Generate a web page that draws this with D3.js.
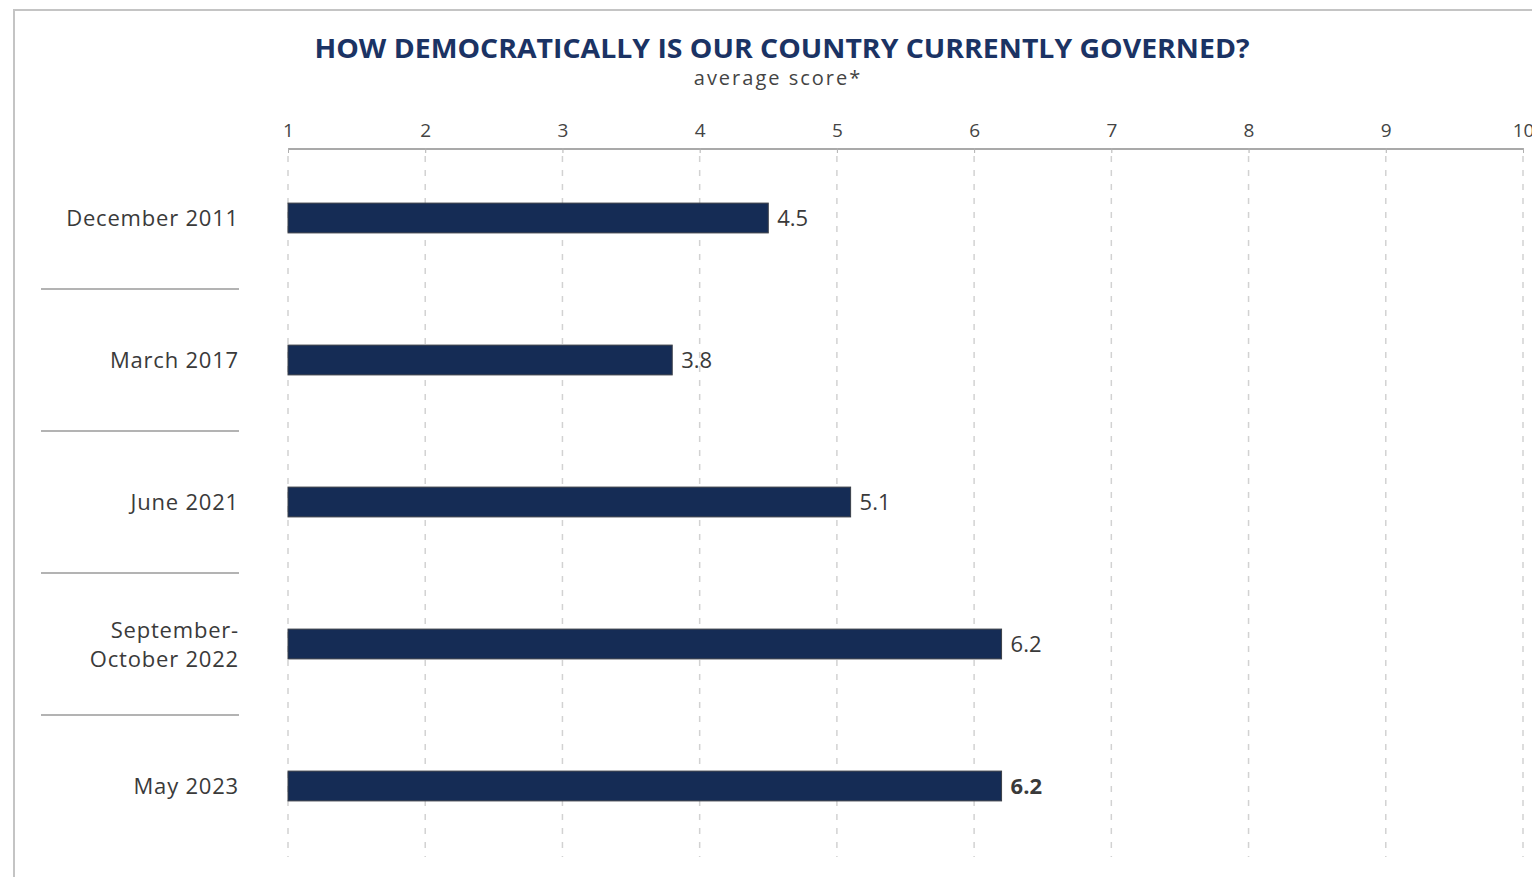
<!DOCTYPE html>
<html lang="en">
<head>
    <meta charset="UTF-8">
    <title>How democratically is our country currently governed?</title>
    <style>
        body { margin: 0; background: #fff; }
        text { font-family: "Open Sans", Lato, sans-serif; }
    </style>
</head>
<body>
    <svg id="container" width="1532" height="877"></svg>

<script src="https://cdn.jsdelivr.net/npm/d3@7/dist/d3.min.js"></script>
<script>
    let periods = ["December 2011", "March 2017", "June 2021", "September-\nOctober 2022", "May 2023"]
    let scores = [4.5, 3.8, 5.1, 6.2, 6.2]
    let tickValues = [1, 2, 3, 4, 5, 6, 7, 8, 9, 10]

    let svg = d3.select("#container")

    // frame (runs off the right and bottom edges)
    svg.append("rect")
        .attr("x", 14).attr("y", 10)
        .attr("width", 1600).attr("height", 1000)
        .attr("fill", "none")
        .attr("stroke", "#c4c4c4")
        .attr("stroke-width", 2)

    svg.append("text")
        .attr("x", 782).attr("y", 58)
        .attr("text-anchor", "middle")
        .attr("textLength", 935)
        .attr("lengthAdjust", "spacingAndGlyphs")
        .style("font-weight", "700")
        .style("font-size", "27px")
        .attr("fill", "#1b3364")
        .text("HOW DEMOCRATICALLY IS OUR COUNTRY CURRENTLY GOVERNED?")

    svg.append("text")
        .attr("x", 778).attr("y", 85)
        .attr("text-anchor", "middle")
        .style("font-size", "20px")
        .style("letter-spacing", "2px")
        .attr("fill", "#444")
        .text("average score*")

    let xScale = d3.scaleLinear().domain([1, 10]).range([288, 1523])
    let yScale = d3.scaleBand().domain(periods).range([147, 857])
        .paddingInner(0.79).paddingOuter(0.395)
    let step = yScale.step()

    // dashed grid
    svg.append("g").selectAll("line")
        .data(tickValues)
        .join("line")
        .attr("x1", d => xScale(d)).attr("x2", d => xScale(d))
        .attr("y1", 156).attr("y2", 857)
        .attr("stroke", "#d2d2d2")
        .attr("stroke-width", 1.5)
        .attr("stroke-dasharray", "6 8")

    let xAxis = d3.axisTop(xScale).tickValues(tickValues).tickSize(5).tickPadding(7)
    let xAxisGroup = svg.append("g")
        .attr("transform", "translate(0,149)")
        .call(xAxis)
    xAxisGroup.select(".domain").attr("stroke", "#8c8c8c").attr("stroke-width", 1.5)
        .attr("d", `M${xScale(1)},0H${xScale(10)}`)
    xAxisGroup.selectAll(".tick line").attr("stroke", "#b0b0b0").attr("transform", "translate(0,4)")
    xAxisGroup.selectAll(".tick text")
        .style("font-size", "19px")
        .style("font-family", "'Open Sans', sans-serif")
        .attr("fill", "#444")

    // separators between rows
    svg.append("g").selectAll("line")
        .data(periods.slice(1))
        .join("line")
        .attr("x1", 41).attr("x2", 239)
        .attr("y1", d => yScale(d) - (step - yScale.bandwidth()) / 2)
        .attr("y2", d => yScale(d) - (step - yScale.bandwidth()) / 2)
        .attr("stroke", "#9a9a9a")
        .attr("stroke-width", 1.5)

    // category labels
    let labels = svg.append("g").selectAll("text")
        .data(periods)
        .join("text")
        .attr("text-anchor", "end")
        .style("font-size", "22px")
        .style("letter-spacing", "0.8px")
        .attr("fill", "#3a3a3a")
    labels.each(function (d) {
        let lines = d.split("\n")
        let cy = yScale(d) + yScale.bandwidth() / 2
        let t = d3.select(this)
        lines.forEach((ln, i) => {
            t.append("tspan")
                .attr("x", 239)
                .attr("y", cy + 8 + (i - (lines.length - 1) / 2) * 29)
                .text(ln)
        })
    })

    let data = periods.map((p, i) => ({ period: p, score: scores[i], last: i === periods.length - 1 }))

    svg.append("g").selectAll("rect")
        .data(data)
        .join("rect")
        .attr("x", xScale(1))
        .attr("y", d => yScale(d.period))
        .attr("width", d => xScale(d.score) - xScale(1))
        .attr("height", yScale.bandwidth())
        .attr("fill", "#152c55")
        .attr("stroke", "#3b3f48")
        .attr("stroke-width", 1)

    svg.append("g").selectAll("text")
        .data(data)
        .join("text")
        .attr("x", d => xScale(d.score) + 9)
        .attr("y", d => yScale(d.period) + yScale.bandwidth() / 2 + 8)
        .style("font-size", "22px")
        .style("font-weight", d => d.last ? "700" : "400")
        .attr("fill", "#3a3a3a")
        .text(d => d.score.toFixed(1))
</script>
</body>
</html>
